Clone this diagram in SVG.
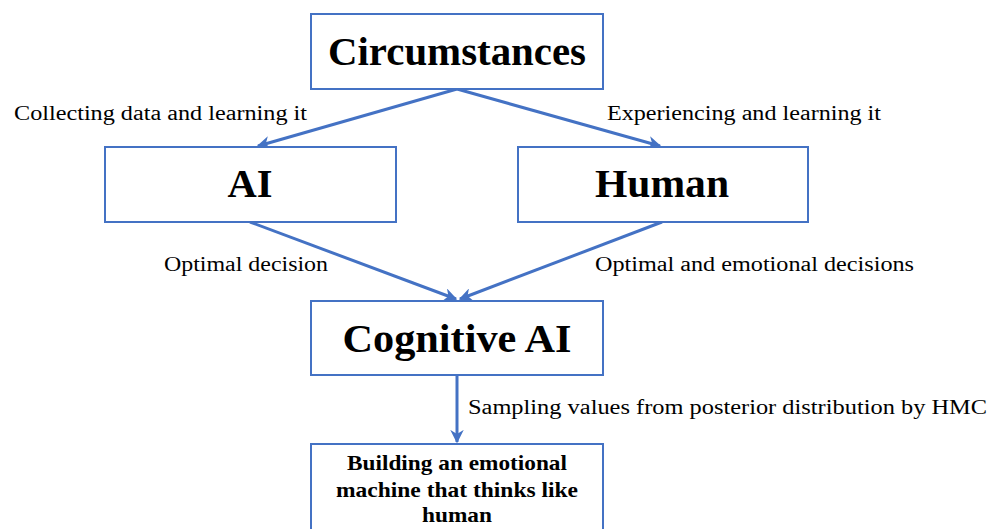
<svg xmlns="http://www.w3.org/2000/svg" width="997" height="529" viewBox="0 0 997 529">
  <style>
    .box { fill: #ffffff; stroke: #4472c4; stroke-width: 2; }
    .title { font-family: "Liberation Serif", "DejaVu Serif", serif; font-weight: bold; font-size: 39px; fill: #000; text-anchor: middle; }
    .label { font-family: "Liberation Serif", "DejaVu Serif", serif; font-size: 20px; fill: #000; }
    .body { font-family: "Liberation Serif", "DejaVu Serif", serif; font-weight: bold; font-size: 22px; fill: #000; text-anchor: middle; }
    .edge { stroke: #4472c4; stroke-width: 3; fill: none; }
  </style>
  <defs>
    <marker id="arrow" viewBox="0 0 10 10" refX="9" refY="5" markerWidth="4.5" markerHeight="4.5" orient="auto" markerUnits="strokeWidth">
      <path d="M0,0 L10,5 L0,10 L3,5 z" fill="#4472c4"/>
    </marker>
  </defs>
  <rect width="997" height="529" fill="#ffffff"/>

  <g id="connectors">
    <line class="edge" x1="457" y1="89" x2="258" y2="146" marker-end="url(#arrow)"/>
    <line class="edge" x1="457" y1="89" x2="660" y2="146" marker-end="url(#arrow)"/>
    <line class="edge" x1="250" y1="222" x2="456" y2="299" marker-end="url(#arrow)"/>
    <line class="edge" x1="662" y1="222" x2="460" y2="299" marker-end="url(#arrow)"/>
    <line class="edge" x1="457" y1="375" x2="457" y2="442" marker-end="url(#arrow)"/>
    <text class="label" x="14" y="120" textLength="293" lengthAdjust="spacingAndGlyphs">Collecting data and learning it</text>
    <text class="label" x="607" y="120" textLength="274" lengthAdjust="spacingAndGlyphs">Experiencing and learning it</text>
    <text class="label" x="164" y="271" textLength="164" lengthAdjust="spacingAndGlyphs">Optimal decision</text>
    <text class="label" x="595" y="271" textLength="319" lengthAdjust="spacingAndGlyphs">Optimal and emotional decisions</text>
    <text class="label" x="468" y="414" textLength="519" lengthAdjust="spacingAndGlyphs">Sampling values from posterior distribution by HMC</text>
  </g>

  <g id="circumstances">
    <rect class="box" x="311" y="14" width="292" height="75"/>
    <text class="title" x="457" y="65" textLength="258" lengthAdjust="spacingAndGlyphs">Circumstances</text>
  </g>

  <g id="ai">
    <rect class="box" x="105" y="147" width="291" height="75"/>
    <text class="title" x="250" y="197" textLength="45" lengthAdjust="spacingAndGlyphs">AI</text>
  </g>

  <g id="human">
    <rect class="box" x="518" y="147" width="290" height="75"/>
    <text class="title" x="662" y="197" textLength="134" lengthAdjust="spacingAndGlyphs">Human</text>
  </g>

  <g id="cognitive-ai">
    <rect class="box" x="311" y="301" width="292" height="74"/>
    <text class="title" x="457" y="352" textLength="229" lengthAdjust="spacingAndGlyphs">Cognitive AI</text>
  </g>

  <g id="emotional-machine">
    <rect class="box" x="311" y="444" width="292" height="100"/>
    <text class="body" x="457" y="470" textLength="220" lengthAdjust="spacingAndGlyphs">Building an emotional</text>
    <text class="body" x="457" y="497" textLength="242" lengthAdjust="spacingAndGlyphs">machine that thinks like</text>
    <text class="body" x="457" y="522" textLength="70" lengthAdjust="spacingAndGlyphs">human</text>
  </g>
</svg>
